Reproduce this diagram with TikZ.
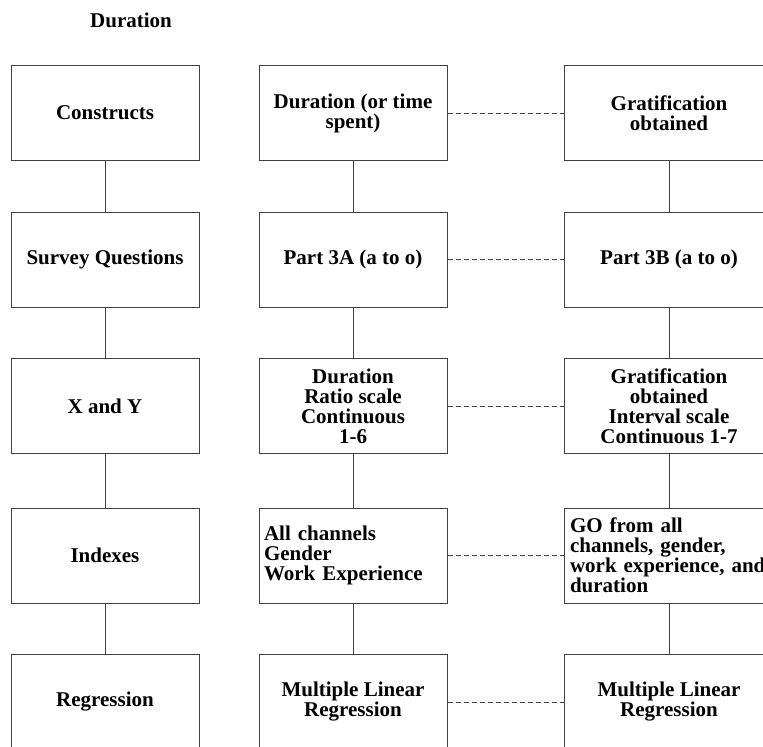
\documentclass[tikz,border=0pt]{standalone}
\usepackage{fontspec}
\setmainfont{Liberation Serif}
\usetikzlibrary{positioning}

\begin{document}
\begin{tikzpicture}[x=0.5pt,y=-0.5pt,
  font=\fontsize{10.5}{10}\selectfont\bfseries,
  box/.style={draw=black!75,line width=0.5pt,minimum width=94pt,minimum height=47.5pt,align=center,inner sep=2.5pt},
  widebox/.style={box,minimum width=105pt,inner sep=3pt},
  link/.style={draw=black!75,line width=0.5pt},
  dashlink/.style={link,dash pattern=on 2.5pt off 1.5pt}]
\useasboundingbox (0,0) rectangle (763,746);
\node (title) at (131,20) {Duration};
% left column
\node[box] (constructs) at (105,113) {Constructs};
\node[box] (survey) at (105,259.5) {Survey Questions};
\node[box] (xy) at (105,406) {X and Y};
\node[box] (indexes) at (105,555.5) {Indexes};
\node[box] (regression) at (105,702) {Regression};
% duration column
\node[box] (durcon) at (353,113) {Duration (or time\\spent)};
\node[box] (dursur) at (353,259.5) {Part 3A (a to o)};
\node[box] (durxy) at (353,406) {Duration\\Ratio scale\\Continuous\\1-6};
\node[box,text width=89pt,align=left] (durind) at (353,555.5) {All channels\\Gender\\Work Experience};
\node[box] (durreg) at (353,702) {Multiple Linear\\Regression};
% gratification column
\node[widebox] (gracon) at (669,113) {Gratification\\obtained};
\node[widebox] (grasur) at (669,259.5) {Part 3B (a to o)};
\node[widebox] (graxy) at (669,406) {Gratification\\obtained\\Interval scale\\Continuous 1-7};
\node[widebox,text width=99pt,align=left] (graind) at (669,555.5) {GO from all\\channels, gender,\\work experience, and\\duration};
\node[widebox] (grareg) at (669,702) {Multiple Linear\\Regression};
% vertical links
\draw[link] (constructs) -- (survey) (survey) -- (xy) (xy) -- (indexes) (indexes) -- (regression);
\draw[link] (durcon) -- (dursur) (dursur) -- (durxy) (durxy) -- (durind) (durind) -- (durreg);
\draw[link] (gracon) -- (grasur) (grasur) -- (graxy) (graxy) -- (graind) (graind) -- (grareg);
% dashed links
\draw[dashlink] (durcon) -- (gracon);
\draw[dashlink] (dursur) -- (grasur);
\draw[dashlink] (durxy) -- (graxy);
\draw[dashlink] (durind) -- (graind);
\draw[dashlink] (durreg) -- (grareg);
\end{tikzpicture}
\end{document}
